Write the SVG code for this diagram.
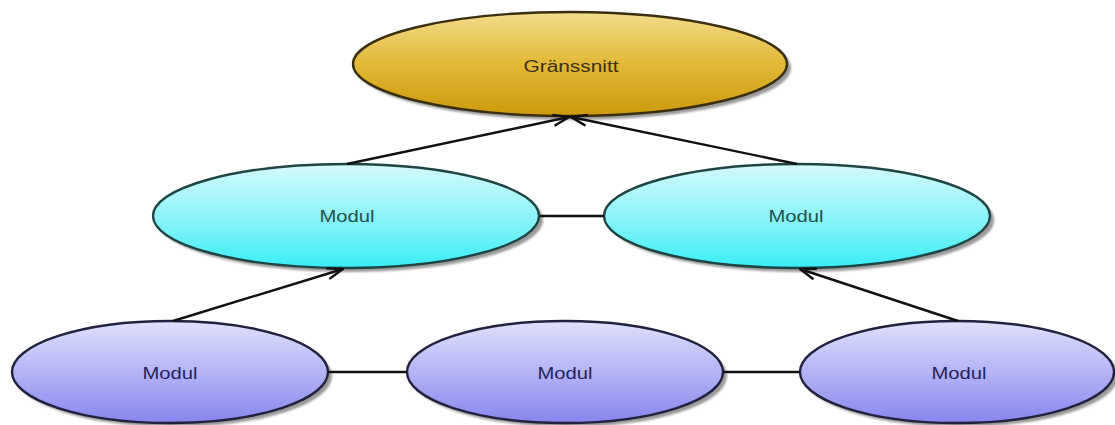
<svg xmlns="http://www.w3.org/2000/svg" width="1115" height="425" viewBox="0 0 1115 425">
  <defs>
    <linearGradient id="gold" x1="0" y1="0" x2="0" y2="1">
      <stop offset="0" stop-color="#f3dc8c"/>
      <stop offset="0.5" stop-color="#e2b835"/>
      <stop offset="1" stop-color="#cc9a0c"/>
    </linearGradient>
    <linearGradient id="cyan" x1="0" y1="0" x2="0" y2="1">
      <stop offset="0" stop-color="#d4fafb"/>
      <stop offset="0.5" stop-color="#8ef4f8"/>
      <stop offset="1" stop-color="#38eef6"/>
    </linearGradient>
    <linearGradient id="lav" x1="0" y1="0" x2="0" y2="1">
      <stop offset="0" stop-color="#e0e0fc"/>
      <stop offset="0.5" stop-color="#b4b4f6"/>
      <stop offset="1" stop-color="#8686ee"/>
    </linearGradient>
    <filter id="soft" x="-10%" y="-10%" width="120%" height="130%">
      <feGaussianBlur stdDeviation="1.2"/>
    </filter>
    <marker id="arrow" viewBox="0 0 18 14" refX="17" refY="7" markerWidth="18" markerHeight="14" markerUnits="userSpaceOnUse" orient="auto">
      <path d="M1,1.5 L17,7 L1,12.5" fill="none" stroke="#111" stroke-width="2.4"/>
    </marker>
    <style>
      .shadow { fill: #9a9a9a; filter: url(#soft); }
      .edge { stroke: #111; stroke-width: 2.4; fill: none; }
      .label { font-family: "Liberation Sans", Arial, sans-serif; font-size: 16px; text-anchor: middle; }
      .top { fill: url(#gold); stroke: #3a2e0e; stroke-width: 2.4; }
      .mid { fill: url(#cyan); stroke: #1e4444; stroke-width: 2.4; }
      .low { fill: url(#lav); stroke: #22223e; stroke-width: 2.4; }
    </style>
  </defs>

  <rect width="1115" height="425" fill="#ffffff"/>

  <!-- top node -->
  <g id="node-interface">
    <ellipse class="shadow" cx="574" cy="68" rx="217" ry="52"/>
    <ellipse class="top" cx="570" cy="64" rx="217" ry="52"/>
    <text class="label" x="571" y="72" fill="#3a3018" textLength="95" lengthAdjust="spacingAndGlyphs">Gränssnitt</text>
  </g>

  <!-- middle row -->
  <g id="node-mid-left">
    <ellipse class="shadow" cx="350" cy="220" rx="193" ry="52"/>
    <ellipse class="mid" cx="346" cy="216" rx="193" ry="52"/>
    <text class="label" x="347" y="222" fill="#1e5252" textLength="55" lengthAdjust="spacingAndGlyphs">Modul</text>
  </g>
  <g id="node-mid-right">
    <ellipse class="shadow" cx="801" cy="220" rx="193" ry="52"/>
    <ellipse class="mid" cx="797" cy="216" rx="193" ry="52"/>
    <text class="label" x="796" y="222" fill="#1e5252" textLength="55" lengthAdjust="spacingAndGlyphs">Modul</text>
  </g>

  <!-- bottom row -->
  <g id="node-low-left">
    <ellipse class="shadow" cx="174" cy="376" rx="158" ry="51"/>
    <ellipse class="low" cx="170" cy="372" rx="158" ry="51"/>
    <text class="label" x="170" y="379" fill="#24245e" textLength="55" lengthAdjust="spacingAndGlyphs">Modul</text>
  </g>
  <g id="node-low-mid">
    <ellipse class="shadow" cx="569" cy="376" rx="158" ry="51"/>
    <ellipse class="low" cx="565" cy="372" rx="158" ry="51"/>
    <text class="label" x="565" y="379" fill="#24245e" textLength="55" lengthAdjust="spacingAndGlyphs">Modul</text>
  </g>
  <g id="node-low-right">
    <ellipse class="shadow" cx="961" cy="376" rx="157" ry="51"/>
    <ellipse class="low" cx="957" cy="372" rx="157" ry="51"/>
    <text class="label" x="959" y="379" fill="#24245e" textLength="55" lengthAdjust="spacingAndGlyphs">Modul</text>
  </g>

  <!-- connectors -->
  <g id="connectors">
    <line class="edge" x1="347" y1="164" x2="569" y2="117" marker-end="url(#arrow)"/>
    <line class="edge" x1="797" y1="164" x2="571" y2="117" marker-end="url(#arrow)"/>
    <line class="edge" x1="173" y1="321" x2="343" y2="269" marker-end="url(#arrow)"/>
    <line class="edge" x1="958" y1="321" x2="800" y2="269" marker-end="url(#arrow)"/>
    <line class="edge" x1="540" y1="216" x2="604" y2="216"/>
    <line class="edge" x1="328" y1="372" x2="407" y2="372"/>
    <line class="edge" x1="723" y1="372" x2="800" y2="372"/>
  </g>
</svg>
